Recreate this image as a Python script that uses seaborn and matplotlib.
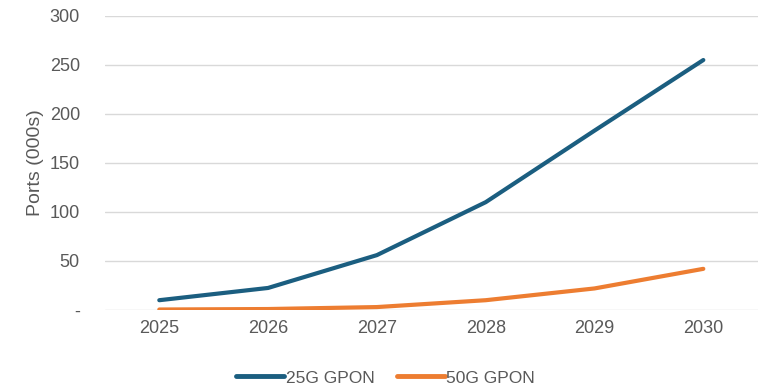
import matplotlib
matplotlib.use("Agg")
import matplotlib.pyplot as plt
import seaborn as sns
import pandas as pd

years = ["2025", "2026", "2027", "2028", "2029", "2030"]
gpon_25g = [10, 22.5, 56, 110, 183, 255]
gpon_50g = [0.5, 1, 3, 10, 22, 42]
series_names = ["25G GPON", "50G GPON"]
colors = ["#1B5E80", "#ED7D31"]
y_ticks = [0, 50, 100, 150, 200, 250, 300]
y_tick_labels = ["-", "50", "100", "150", "200", "250", "300"]

sns.set_theme(style="white")
plt.rcParams["font.family"] = ["Liberation Sans", "DejaVu Sans"]

df = pd.DataFrame({
    "Year": years * 2,
    "Ports": gpon_25g + gpon_50g,
    "Series": [series_names[0]] * len(years) + [series_names[1]] * len(years),
})

fig = plt.figure(figsize=(7.6, 3.88), dpi=100)
ax = fig.add_axes([0.138, 0.201, 0.859, 0.758])

sns.lineplot(data=df, x="Year", y="Ports", hue="Series", palette=colors,
             linewidth=3, ax=ax, sort=False, solid_capstyle="round")

ax.set_xlim(-0.5, len(years) - 0.5)
ax.set_ylim(0, 300)
ax.set_yticks(y_ticks)
ax.set_yticklabels(y_tick_labels)
ax.yaxis.grid(True, color="#D9D9D9", linewidth=1)
ax.set_axisbelow(True)
for s in ax.spines.values():
    s.set_visible(False)
ax.tick_params(axis="both", length=0, labelsize=13, colors="#595959")
ax.tick_params(axis="y", pad=18)
ax.tick_params(axis="x", pad=7)
ax.set_xlabel("")
ax.set_ylabel("Ports (000s)", fontsize=14, color="#595959", labelpad=4)

leg = ax.legend(loc="center", bbox_to_anchor=(0.43, -0.231), ncol=2,
                frameon=False, fontsize=12.5, handlelength=2.75, handletextpad=0.1,
                columnspacing=1.3)
for t in leg.get_texts():
    t.set_color("#595959")
for h in leg.get_lines():
    h.set_linewidth(3.5)
    h.set_solid_capstyle("round")

fig.savefig("out.png", dpi=100)
